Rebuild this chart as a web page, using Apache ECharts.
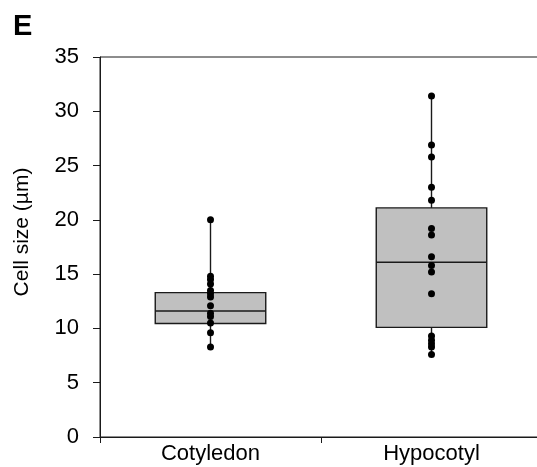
<!DOCTYPE html>
<html>
<head>
<meta charset="utf-8">
<script src="https://cdn.jsdelivr.net/npm/echarts@6/dist/echarts.min.js"></script>
<style>html,body{margin:0;padding:0;background:#fff}#c{width:537px;height:467px}</style>
</head>
<body>
<div id="c"></div>
<script>
var categories = ['Cotyledon', 'Hypocotyl'];
// box statistics: [min, Q1, median, Q3, max]
var cotyledonBox = [8.3, 10.45, 11.6, 13.3, 20.0];
var hypocotylBox = [7.6, 10.1, 16.1, 21.1, 31.4];
// individual points
var cotyledonPoints = [20.0, 14.8, 14.5, 14.1, 13.5, 13.2, 12.9, 12.1, 11.4, 11.1, 10.5, 9.6, 8.3];
var hypocotylPoints = [31.4, 26.9, 25.8, 23.0, 21.8, 19.2, 18.6, 16.6, 15.8, 15.2, 13.2, 9.3, 8.9, 8.6, 8.3, 7.6];
var yTicks = [0, 5, 10, 15, 20, 25, 30, 35];
var yTitle = 'Cell size (µm)';

var FONT = '"Liberation Sans", Arial, sans-serif';
var boxes = [[0].concat(cotyledonBox), [1].concat(hypocotylBox)];
var points = cotyledonPoints.map(function (v) { return [0, v]; })
  .concat(hypocotylPoints.map(function (v) { return [1, v]; }));

var chart = echarts.init(document.getElementById('c'), null, {renderer: 'canvas'});
chart.setOption({
  animation: false,
  backgroundColor: '#fff',
  title: {
    text: 'E', left: 8, top: 7,
    textStyle: {fontFamily: FONT, fontSize: 29, fontWeight: 'bold', color: '#000'}
  },
  graphic: [{
    type: 'text', x: 22, y: 232, rotation: Math.PI / 2,
    style: {text: yTitle, fontFamily: FONT, fontSize: 21, fill: '#000', align: 'center', verticalAlign: 'middle'}
  }],
  grid: {
    left: 100, top: 57, width: 442, height: 380, containLabel: false,
    outerBoundsMode: 'none',
    show: true, borderColor: '#1a1a1a', borderWidth: 1, backgroundColor: 'transparent'
  },
  xAxis: {
    type: 'category', data: categories,
    axisLine: {lineStyle: {color: '#1a1a1a', width: 1}},
    axisTick: {show: true, length: 6, alignWithLabel: false, lineStyle: {color: '#1a1a1a'}},
    axisLabel: {fontFamily: FONT, fontSize: 22, color: '#000', margin: 6},
    splitLine: {show: false}
  },
  yAxis: {
    type: 'value', min: yTicks[0], max: yTicks[yTicks.length - 1], interval: 5,
    axisLine: {show: true, lineStyle: {color: '#1a1a1a', width: 1}},
    axisTick: {show: true, length: 7, inside: false, lineStyle: {color: '#1a1a1a'}},
    axisLabel: {fontFamily: FONT, fontSize: 22, color: '#000', margin: 21},
    splitLine: {show: false}
  },
  series: [
    {
      type: 'custom',
      data: boxes,
      encode: {x: 0, y: [1, 2, 3, 4, 5]},
      z: 2,
      renderItem: function (params, api) {
        var c = api.value(0);
        var pMin = api.coord([c, api.value(1)]);
        var pQ1 = api.coord([c, api.value(2)]);
        var pMed = api.coord([c, api.value(3)]);
        var pQ3 = api.coord([c, api.value(4)]);
        var pMax = api.coord([c, api.value(5)]);
        var w = api.size([1, 0])[0] * 0.5;
        var x0 = pMed[0] - w / 2;
        var stroke = {stroke: '#1a1a1a', lineWidth: 1.4};
        return {
          type: 'group',
          children: [
            {type: 'line', shape: {x1: pMin[0], y1: pMin[1], x2: pQ1[0], y2: pQ1[1]}, style: stroke},
            {type: 'line', shape: {x1: pQ3[0], y1: pQ3[1], x2: pMax[0], y2: pMax[1]}, style: stroke},
            {type: 'rect', shape: {x: x0, y: pQ3[1], width: w, height: pQ1[1] - pQ3[1]},
              style: {fill: '#c0c0c0', stroke: '#1a1a1a', lineWidth: 1.4}},
            {type: 'line', shape: {x1: x0, y1: pMed[1], x2: x0 + w, y2: pMed[1]}, style: stroke}
          ]
        };
      }
    },
    {
      type: 'scatter',
      data: points,
      symbol: 'circle',
      symbolSize: 7,
      z: 5,
      itemStyle: {color: '#000', opacity: 1}
    }
  ]
});
</script>
</body>
</html>
